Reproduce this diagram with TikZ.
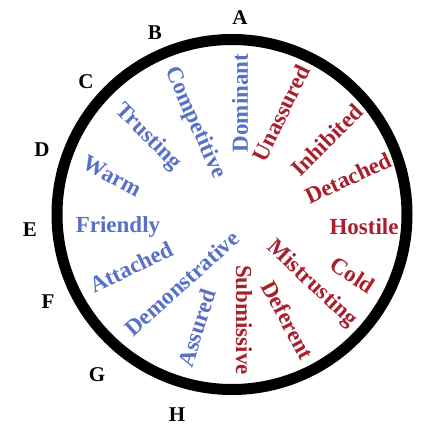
\documentclass[tikz,border=0pt]{standalone}
\usepackage{fontspec}
\setmainfont{Liberation Serif}
\definecolor{wblue}{RGB}{88,112,200}
\definecolor{wred}{RGB}{168,32,44}
\begin{document}
\begin{tikzpicture}[x=1pt,y=-1pt,
  ring/.style={line width=11pt,black},
  letterlab/.style={font=\fontsize{21}{21}\selectfont\bfseries,inner sep=0pt,black},
  warmword/.style={font=\fontsize{23}{23}\selectfont\bfseries,inner sep=0pt,text=wblue},
  coldword/.style={font=\fontsize{23}{23}\selectfont\bfseries,inner sep=0pt,text=wred}]
\useasboundingbox (0,0) rectangle (424,434);
\coordinate (ctr) at (232,214.5);
\draw[ring] (ctr) circle[radius=175];
% letters
\node[letterlab] (lA) at (240,18) {A};
\node[letterlab] (lB) at (155,33) {B};
\node[letterlab] (lC) at (86,82) {C};
\node[letterlab] (lD) at (42,150) {D};
\node[letterlab] (lE) at (30,230) {E};
\node[letterlab] (lF) at (48,302) {F};
\node[letterlab] (lG) at (97,375) {G};
\node[letterlab] (lH) at (177,415) {H};
% blue words
\node[warmword,rotate=90] (wDom) at (240,103) {Dominant};
\node[warmword,rotate=-66] (wComp) at (195,123) {Competitive};
\node[warmword,rotate=-45] (wTrust) at (148,137) {Trusting};
\node[warmword,rotate=-28] (wWarm) at (112,176) {Warm};
\node[warmword] (wFriend) at (118,227) {Friendly};
\node[warmword,rotate=26] (wAtt) at (131,267) {Attached};
\node[warmword,rotate=42] (wDemo) at (182,283) {Demonstrative};
\node[warmword,rotate=72] (wAss) at (197,328) {Assured};
% red words
\node[coldword,rotate=64] (wUna) at (281,113) {Unassured};
\node[coldword,rotate=45] (wInh) at (327,140) {Inhibited};
\node[coldword,rotate=25] (wDet) at (348,178) {Detached};
\node[coldword] (wHost) at (364,227) {Hostile};
\node[coldword,rotate=-33] (wCold) at (353,275) {Cold};
\node[coldword,rotate=-43] (wMis) at (312,284) {Mistrusting};
\node[coldword,rotate=-62] (wDef) at (288,320) {Deferent};
\node[coldword,rotate=-90] (wSub) at (244,320) {Submissive};
\end{tikzpicture}
\end{document}
